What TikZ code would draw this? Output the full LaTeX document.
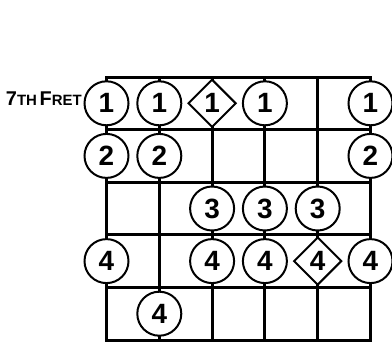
\documentclass[tikz,border=0pt]{standalone}
\usepackage{fontspec}
\setmainfont{Liberation Sans}
\usetikzlibrary{shapes.geometric, positioning}

\tikzset{
  finger/.style={circle, draw, fill=white, line width=2bp, minimum size=44bp,
    inner sep=0pt, font=\fontsize{28}{28}\selectfont\bfseries},
  rootnote/.style={diamond, draw, fill=white, line width=2bp, minimum width=48bp,
    minimum height=48bp, inner sep=0pt, font=\fontsize{28}{28}\selectfont\bfseries},
  fretline/.style={line width=3bp, line cap=rect}
}

\begin{document}
\begin{tikzpicture}[x=1bp, y=-1bp]
    % Configuration
    \def\sx{52.8}   % string spacing
    \def\fy{52.6}   % fret spacing
    \def\xo{106.5}  % first string
    \def\yo{77}     % nut

    \useasboundingbox (0,0) rectangle (392,342);

    % Frets
    \foreach \j in {0,...,5} {
        \draw[fretline] (\xo, {\yo+\j*\fy}) -- ({\xo+5*\sx}, {\yo+\j*\fy});
    }

    % Strings
    \foreach \i in {0,...,5} {
        \draw[fretline] ({\xo+\i*\sx}, \yo) -- ({\xo+\i*\sx}, {\yo+5*\fy});
    }

    % Fingers (string/fret/finger)
    \foreach \s/\f/\n in {1/1/1, 2/1/1, 4/1/1, 6/1/1,
                          1/2/2, 2/2/2, 6/2/2,
                          3/3/3, 4/3/3, 5/3/3,
                          1/4/4, 3/4/4, 4/4/4, 6/4/4,
                          2/5/4} {
        \node[finger] (s\s f\f) at ({\xo+(\s-1)*\sx}, {\yo+(\f-0.5)*\fy}) {\n};
    }

    % Root notes
    \foreach \s/\f/\n in {3/1/1, 5/4/4} {
        \node[rootnote] (s\s f\f) at ({\xo+(\s-1)*\sx}, {\yo+(\f-0.5)*\fy}) {\n};
    }

    % Position label
    \node[anchor=base east, inner sep=0pt, font=\bfseries] (fretlabel) at (82, 105)
        {{\fontsize{20}{20}\selectfont 7}{\fontsize{15}{15}\selectfont TH}
         {\fontsize{20}{20}\selectfont F}{\fontsize{15}{15}\selectfont RET}};
\end{tikzpicture}
\end{document}
